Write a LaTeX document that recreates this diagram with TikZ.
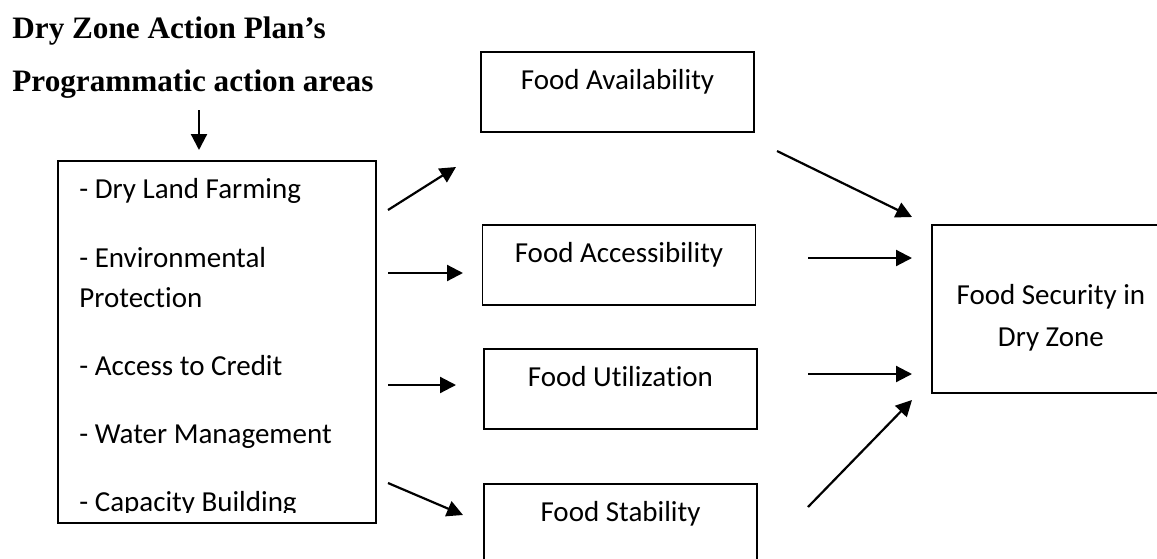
\documentclass[tikz,border=0pt]{standalone}
\usepackage{fontspec}
\setmainfont{Carlito}[Ligatures=NoCommon]
\newfontfamily\headfont{Liberation Serif}
\usetikzlibrary{arrows.meta}

\begin{document}
\begin{tikzpicture}[x=0.5pt, y=-0.5pt, >={Triangle[length=8pt,width=8pt]},
  every node/.style={font=\fontsize{14.5pt}{21pt}\selectfont},
  box/.style={draw, line width=0.9pt, inner sep=0pt},
  foodbox/.style={box, anchor=north, minimum width=136.5pt, text height=19pt, text depth=21pt},
  item/.style={anchor=base west, inner sep=0pt},
  heading/.style={anchor=base west, inner sep=0pt, font=\headfont\bfseries\fontsize{15.6pt}{20pt}\selectfont},
  link/.style={->, line width=1.1pt}]

\useasboundingbox (0,0) rectangle (1157,558);
\clip (0,0) rectangle (1157,558);

% Heading
\node[heading] (head1) at (12,38) {Dry Zone Action Plan’s};
\node[heading] (head2) at (12,91) {Programmatic action areas};

% Action areas
\node[box, minimum width=159pt, minimum height=181pt] (areas) at (217,342) {};
\node[item] (farm) at (79,198) {- Dry Land Farming};
\node[item] (env) at (79,267) {- Environmental};
\node[item] (prot) at (79,307) {Protection};
\node[item] (credit) at (79,375) {- Access to Credit};
\node[item] (water) at (79,443) {- Water Management};
\begin{scope}
  \clip (58,161) rectangle (376,512);
  \node[item] (capacity) at (79,511) {- Capacity Building};
\end{scope}

% Food security pillars
\node[foodbox] (avail) at (617.5,51) {Food Availability};
\node[foodbox] (access) at (619,224) {Food Accessibility};
\node[foodbox] (util) at (620.5,348) {Food Utilization};
\node[foodbox] (stab) at (620.5,483) {Food Stability};

% Outcome
\node[box, anchor=north west, minimum width=119pt, align=center, text height=61pt, text depth=23pt] (secure) at (931,224) {Food Security in\\Dry Zone};

% Free arrow ends
\coordinate (h0) at (199,110);   \coordinate (h1) at (199,150);
\coordinate (a0) at (388,210);   \coordinate (a1) at (456,167);
\coordinate (b0) at (388,273);   \coordinate (b1) at (463,273);
\coordinate (c0) at (388,385);   \coordinate (c1) at (456,385);
\coordinate (d0) at (388,483);   \coordinate (d1) at (463,515);
\coordinate (e0) at (777,151);   \coordinate (e1) at (912,217);
\coordinate (f0) at (808,258);   \coordinate (f1) at (912,258);
\coordinate (g0) at (808,374);   \coordinate (g1) at (912,374);
\coordinate (k0) at (808,507);   \coordinate (k1) at (912,400);

% Connections
\draw[link] (h0) -- (h1);
\foreach \s in {a,b,c,d,e,f,g,k} {
  \draw[link] (\s0) -- (\s1);
}

\end{tikzpicture}
\end{document}
